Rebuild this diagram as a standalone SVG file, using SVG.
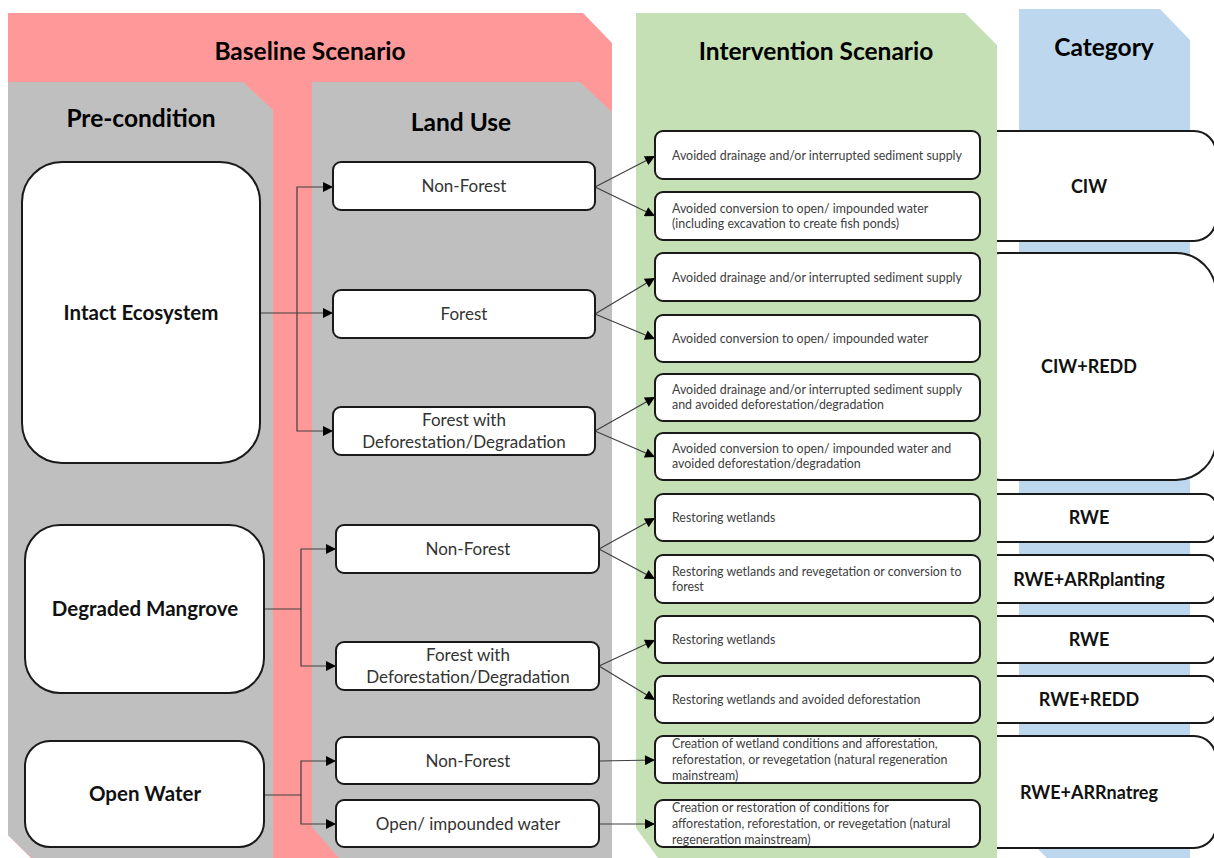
<svg xmlns="http://www.w3.org/2000/svg" width="1214" height="858" viewBox="0 0 1214 858">
<style>
.hd{font-family:Lato,"Liberation Sans",sans-serif;font-weight:bold;font-size:24.5px;fill:#000;text-anchor:middle}
.pc{fill:#fff;stroke:#1a1a1a;stroke-width:2}
.pt{font-family:Lato,"Liberation Sans",sans-serif;font-weight:bold;font-size:20.5px;fill:#111;text-anchor:middle}
.lu{fill:#fff;stroke:#1a1a1a;stroke-width:2}
.lt{font-family:Lato,"Liberation Sans",sans-serif;font-size:17px;fill:#333;text-anchor:middle}
.iv{fill:#fff;stroke:#1a1a1a;stroke-width:2}
.it{font-family:Lato,"Liberation Sans",sans-serif;font-size:12.4px;fill:#404040}
.cb{fill:#fff;stroke:#1a1a1a;stroke-width:2}
.ct{font-family:Lato,"Liberation Sans",sans-serif;font-weight:bold;font-size:18px;fill:#111;text-anchor:middle}
.cn{fill:none;stroke:#404040;stroke-width:1.2}
</style>
<defs>
<marker id="ah" viewBox="0 0 10 10" refX="10" refY="5" markerWidth="11" markerHeight="10" markerUnits="userSpaceOnUse" orient="auto">
<path d="M0,0 L10,5 L0,10 Z" fill="#000"/>
</marker>
</defs>
<g id="panels-back">
<polygon points="8,13 583,13 612,43 612,858 31,858 8,835" fill="#FF9999"/>
<polygon points="8,82 243,82 273,110 273,858 32,858 8,835" fill="#BFBFBF"/>
<polygon points="312,82 580,82 612,112 612,858 339,858 312,827" fill="#BFBFBF"/>
<polygon points="1019,9 1160,9 1190,40 1190,858 1047,858 1019,830" fill="#BDD7EE"/>
</g>
<g id="category">
<g id="cat-ciw"><rect class="cb" x="960" y="131" width="256" height="110" rx="22"/><text class="ct" x="1089" y="193">CIW</text></g>
<g id="cat-ciwredd"><rect class="cb" x="960" y="253" width="256" height="227" rx="40"/><text class="ct" x="1089" y="373">CIW+REDD</text></g>
<g id="cat-rwe1"><rect class="cb" x="960" y="494" width="256" height="48" rx="12"/><text class="ct" x="1089" y="524">RWE</text></g>
<g id="cat-rwearrp"><rect class="cb" x="960" y="555" width="256" height="48" rx="12"/><text class="ct" x="1089" y="586">RWE+ARRplanting</text></g>
<g id="cat-rwe2"><rect class="cb" x="960" y="616" width="256" height="47" rx="12"/><text class="ct" x="1089" y="646">RWE</text></g>
<g id="cat-rweredd"><rect class="cb" x="960" y="676" width="256" height="47" rx="12"/><text class="ct" x="1089" y="706">RWE+REDD</text></g>
<g id="cat-rwearrn"><rect class="cb" x="960" y="736" width="256" height="112" rx="22"/><text class="ct" x="1089" y="799">RWE+ARRnatreg</text></g>
</g>
<g id="panel-green">
<polygon points="636,13 965,13 997,45 997,858 658,858 636,828" fill="#C5E0B4"/>
</g>
<g id="headings">
<text class="hd" x="310" y="60">Baseline Scenario</text>
<text class="hd" x="141" y="127">Pre-condition</text>
<text class="hd" x="461" y="131">Land Use</text>
<text class="hd" x="816" y="60">Intervention Scenario</text>
<text class="hd" x="1104" y="56">Category</text>
</g>
<g id="connectors">
<path class="cn" d="M260,313 L333,313" marker-end="url(#ah)"/>
<path class="cn" d="M297,313 L297,187 L333,187" marker-end="url(#ah)"/>
<path class="cn" d="M297,313 L297,431 L333,431" marker-end="url(#ah)"/>
<path class="cn" d="M264,609 L301,609 L301,549 L336,549" marker-end="url(#ah)"/>
<path class="cn" d="M301,609 L301,666 L336,666" marker-end="url(#ah)"/>
<path class="cn" d="M264,795 L301,795 L301,761 L336,761" marker-end="url(#ah)"/>
<path class="cn" d="M301,795 L301,824 L336,824" marker-end="url(#ah)"/>
<path class="cn" d="M595,187 L655,156" marker-end="url(#ah)"/>
<path class="cn" d="M595,187 L655,216" marker-end="url(#ah)"/>
<path class="cn" d="M595,314 L655,278" marker-end="url(#ah)"/>
<path class="cn" d="M595,314 L655,339" marker-end="url(#ah)"/>
<path class="cn" d="M595,431 L655,397" marker-end="url(#ah)"/>
<path class="cn" d="M595,431 L655,457" marker-end="url(#ah)"/>
<path class="cn" d="M599,549 L655,518" marker-end="url(#ah)"/>
<path class="cn" d="M599,549 L655,579" marker-end="url(#ah)"/>
<path class="cn" d="M599,666 L655,640" marker-end="url(#ah)"/>
<path class="cn" d="M599,666 L655,700" marker-end="url(#ah)"/>
<path class="cn" d="M599,761 L655,760" marker-end="url(#ah)"/>
<path class="cn" d="M599,824 L655,824" marker-end="url(#ah)"/>
</g>
<g id="pre-intact"><rect class="pc" x="22" y="162" width="238" height="301" rx="40"/><text class="pt" x="141" y="320">Intact Ecosystem</text></g>
<g id="pre-degraded"><rect class="pc" x="25" y="525" width="239" height="168" rx="35"/><text class="pt" x="145" y="616">Degraded Mangrove</text></g>
<g id="pre-openwater"><rect class="pc" x="25" y="741" width="239" height="106" rx="25"/><text class="pt" x="145" y="801">Open Water</text></g>
<g id="lu-nf1"><rect class="lu" x="333" y="162" width="262" height="48" rx="8"/><text class="lt" x="464" y="192">Non-Forest</text></g>
<g id="lu-f1"><rect class="lu" x="333" y="290" width="262" height="48" rx="8"/><text class="lt" x="464" y="320">Forest</text></g>
<g id="lu-fwd1"><rect class="lu" x="333" y="407" width="262" height="48" rx="8"/><text class="lt" x="464" y="426">Forest with</text><text class="lt" x="464" y="448">Deforestation/Degradation</text></g>
<g id="lu-nf2"><rect class="lu" x="336" y="525" width="263" height="48" rx="8"/><text class="lt" x="468" y="555">Non-Forest</text></g>
<g id="lu-fwd2"><rect class="lu" x="336" y="642" width="263" height="48" rx="8"/><text class="lt" x="468" y="661">Forest with</text><text class="lt" x="468" y="683">Deforestation/Degradation</text></g>
<g id="lu-nf3"><rect class="lu" x="336" y="737" width="263" height="47" rx="8"/><text class="lt" x="468" y="767">Non-Forest</text></g>
<g id="lu-ow"><rect class="lu" x="336" y="800" width="263" height="47" rx="8"/><text class="lt" x="468" y="830">Open/ impounded water</text></g>
<g id="iv1"><rect class="iv" x="655" y="131" width="325" height="48" rx="8"/><text class="it" x="672" y="160">Avoided drainage and/or interrupted sediment supply</text></g>
<g id="iv2"><rect class="iv" x="655" y="192" width="325" height="48" rx="8"/><text class="it" x="672" y="213">Avoided conversion to open/ impounded water</text><text class="it" x="672" y="228">(including excavation to create fish ponds)</text></g>
<g id="iv3"><rect class="iv" x="655" y="253" width="325" height="48" rx="8"/><text class="it" x="672" y="282">Avoided drainage and/or interrupted sediment supply</text></g>
<g id="iv4"><rect class="iv" x="655" y="315" width="325" height="47" rx="8"/><text class="it" x="672" y="343">Avoided conversion to open/ impounded water</text></g>
<g id="iv5"><rect class="iv" x="655" y="374" width="325" height="47" rx="8"/><text class="it" x="672" y="394">Avoided drainage and/or interrupted sediment supply</text><text class="it" x="672" y="409">and avoided deforestation/degradation</text></g>
<g id="iv6"><rect class="iv" x="655" y="433" width="325" height="47" rx="8"/><text class="it" x="672" y="453">Avoided conversion to open/ impounded water and</text><text class="it" x="672" y="468">avoided deforestation/degradation</text></g>
<g id="iv7"><rect class="iv" x="655" y="494" width="325" height="47" rx="8"/><text class="it" x="672" y="522">Restoring wetlands</text></g>
<g id="iv8"><rect class="iv" x="655" y="555" width="325" height="48" rx="8"/><text class="it" x="672" y="576">Restoring wetlands and revegetation or conversion to</text><text class="it" x="672" y="591">forest</text></g>
<g id="iv9"><rect class="iv" x="655" y="616" width="325" height="47" rx="8"/><text class="it" x="672" y="644">Restoring wetlands</text></g>
<g id="iv10"><rect class="iv" x="655" y="676" width="325" height="47" rx="8"/><text class="it" x="672" y="704">Restoring wetlands and avoided deforestation</text></g>
<g id="iv11"><rect class="iv" x="655" y="736" width="325" height="47" rx="8"/><text class="it" x="672" y="748">Creation of wetland conditions and afforestation,</text><text class="it" x="672" y="764">reforestation, or revegetation (natural regeneration</text><text class="it" x="672" y="780">mainstream)</text></g>
<g id="iv12"><rect class="iv" x="655" y="800" width="325" height="47" rx="8"/><text class="it" x="672" y="812">Creation or restoration of conditions for</text><text class="it" x="672" y="828">afforestation, reforestation, or revegetation (natural</text><text class="it" x="672" y="844">regeneration mainstream)</text></g>
</svg>
